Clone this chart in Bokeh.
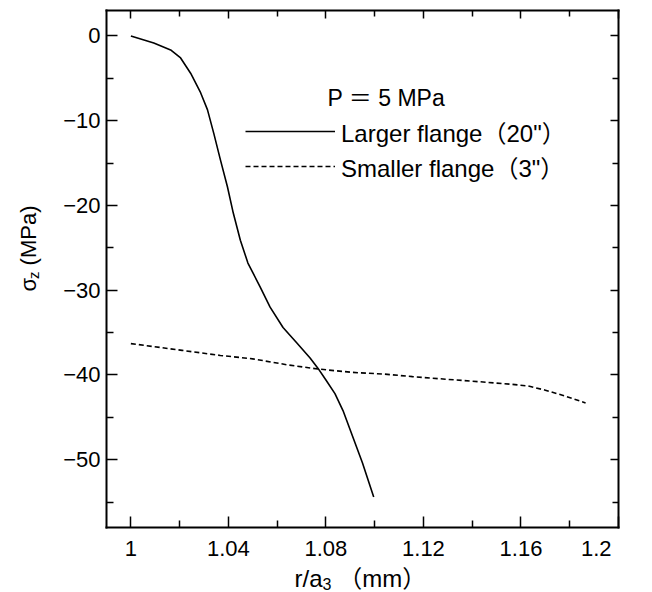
import math
from bokeh.plotting import figure
from bokeh.models import FixedTicker, LinearAxis, Range1d, Label, Legend, LegendItem
from bokeh.embed import file_html
from bokeh.resources import INLINE

# ---- data ----
large_x = [1.000, 1.0094, 1.0163, 1.0204, 1.0245, 1.0286, 1.0314, 1.0340, 1.0367, 1.0396,
           1.0420, 1.0449, 1.0480, 1.0530, 1.0571, 1.0624, 1.0680, 1.0735, 1.0767, 1.0800,
           1.0837, 1.0870, 1.0910, 1.0950, 1.0996]
large_y = [0.0, -0.83, -1.65, -2.6, -4.4, -6.7, -8.7, -11.5, -14.6, -17.8,
           -20.9, -24.1, -26.8, -29.6, -32.0, -34.4, -36.2, -38.0, -39.2, -40.6,
           -42.2, -44.2, -47.3, -50.4, -54.4]

small_x = [1.000, 1.021, 1.0367, 1.050, 1.064, 1.0767, 1.091, 1.104, 1.1155, 1.129,
           1.143, 1.156, 1.163, 1.170, 1.177, 1.1865]
small_y = [-36.3, -37.1, -37.7, -38.1, -38.8, -39.3, -39.7, -39.9, -40.2, -40.5,
           -40.8, -41.1, -41.3, -41.8, -42.4, -43.3]

x_ticks = [1.0, 1.04, 1.08, 1.12, 1.16, 1.2]
x_tick_labels = ["1", "1.04", "1.08", "1.12", "1.16", "1.2"]
x_minor = [1.02, 1.06, 1.10, 1.14, 1.18]
y_ticks = [0, -10, -20, -30, -40, -50]
y_tick_labels = ["0", "\u221210", "\u221220", "\u221230", "\u221240", "\u221250"]
y_minor = [-5, -15, -25, -35, -45, -55]

series_labels = ["Larger flange\uff0820\"\uff09", "Smaller flange\uff083\"\uff09"]
title_text = "P \uff1d 5 MPa"

X0, X1 = 0.99, 1.2      # axis box limits
Y0, Y1 = -58, 3

# ---- layout geometry (pixels) ----
W, H = 652, 592
L, R, T, B = 106, 618, 10, 527
sx = (R - L) / (X1 - X0)
sy = (B - T) / (Y1 - Y0)

FONT = "Liberation Sans, Noto Sans CJK JP"
FS = "22px"

p = figure(width=W, height=H,
           x_range=Range1d(X0 - L / sx, X1 + (W - R) / sx),
           y_range=Range1d(Y0 - (H - B) / sy, Y1 + T / sy),
           output_backend="svg", toolbar_location=None,
           x_axis_location=None, y_axis_location=None,
           min_border=0, min_border_left=0, min_border_right=0,
           min_border_top=0, min_border_bottom=0)
p.xgrid.visible = False
p.ygrid.visible = False
p.outline_line_color = None
p.background_fill_color = "white"
p.border_fill_color = "white"

xt = FixedTicker(ticks=x_ticks, minor_ticks=x_minor)
yt = FixedTicker(ticks=y_ticks, minor_ticks=y_minor)

bottom = LinearAxis(fixed_location=Y0, bounds=(X0, X1), ticker=xt)
top = LinearAxis(fixed_location=Y1, bounds=(X0, X1), ticker=xt)
left = LinearAxis(fixed_location=X0, bounds=(Y0, Y1), ticker=yt)
right = LinearAxis(fixed_location=X1, bounds=(Y0, Y1), ticker=yt)
p.add_layout(bottom, "below")
p.add_layout(top, "above")
p.add_layout(left, "left")
p.add_layout(right, "right")

for ax in (bottom, top, left, right):
    ax.axis_line_width = 2
    ax.axis_line_color = "black"
    ax.axis_line_cap = "square"
    ax.major_tick_out = 0
    ax.minor_tick_out = 0
    ax.major_tick_line_width = 1.5
    ax.minor_tick_line_width = 1.5
    ax.major_tick_line_color = "black"
    ax.minor_tick_line_color = "black"
    ax.major_label_text_font = FONT
    ax.major_label_text_font_size = FS
    ax.major_label_text_color = "black"

for ax in (bottom, left):
    ax.major_tick_in = 11
    ax.minor_tick_in = 7
for ax in (top, right):
    ax.major_tick_in = 8
    ax.minor_tick_in = 6

# tick labels; the last x label is drawn separately (it sits left of its tick)
bottom.major_label_overrides = dict(zip(x_ticks, x_tick_labels[:-1] + [""]))
bottom.major_label_standoff = 13
left.major_label_overrides = dict(zip(y_ticks, y_tick_labels))
left.major_label_standoff = 6
top.major_label_overrides = dict(zip(x_ticks, [""] * len(x_ticks)))
right.major_label_overrides = dict(zip(y_ticks, [""] * len(y_ticks)))


def lab(cx, cy, text, size=FS, **kw):
    """Label positioned in canvas pixels measured from the top-left."""
    p.add_layout(Label(x=cx, y=H - cy, x_units="screen", y_units="screen", text=text,
                       text_font=FONT, text_font_size=size, text_color="black", **kw))


lab(611, B + 13, x_tick_labels[-1], text_align="right", text_baseline="top")

r1 = p.line(large_x, large_y, line_color="black", line_width=1.6)
r2 = p.line(small_x, small_y, line_color="black", line_width=1.6, line_dash="5 3")

legend = Legend(items=[LegendItem(label=series_labels[0], renderers=[r1]),
                       LegendItem(label=series_labels[1], renderers=[r2])],
                location=(245, H - 183.5), glyph_width=90, glyph_height=28, label_height=28,
                label_standoff=6, spacing=-1, padding=0, margin=0,
                border_line_color=None, background_fill_alpha=0,
                label_text_font=FONT, label_text_font_size="24px", label_text_color="black")
p.add_layout(legend)

lab(327, 97, title_text, size="23px", text_baseline="middle")

# x axis title: r/a3 (mm)
XM = 578
lab(294, XM, "r/a", size="24px", text_baseline="middle")
lab(322, XM + 5, "3", size="16px", text_baseline="middle")
lab(331, XM, "\u00a0\uff08mm\uff09", size="24px", text_baseline="middle")

# y axis title: sigma_z (MPa), reading upwards
YM = 28
A = math.pi / 2
lab(YM, 291, "\u03c3", angle=A, text_baseline="middle")
lab(YM + 5, 278.5, "z", size="15px", angle=A, text_baseline="middle")
lab(YM, 271, "\u00a0(MPa)", angle=A, text_baseline="middle")

open("out.html", "w").write(file_html(p, INLINE))
